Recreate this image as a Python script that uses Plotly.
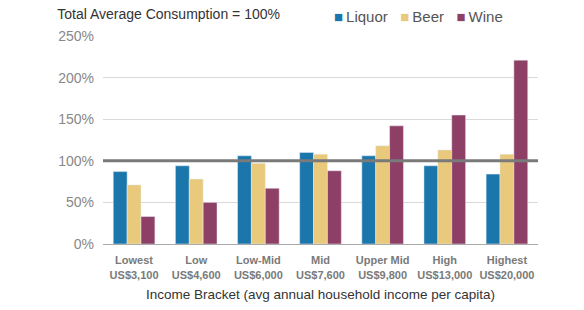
import plotly.graph_objects as go

categories = ["<b>Lowest</b><br><b>US$3,100</b>", "<b>Low</b><br><b>US$4,600</b>",
              "<b>Low-Mid</b><br><b>US$6,000</b>", "<b>Mid</b><br><b>US$7,600</b>",
              "<b>Upper Mid</b><br><b>US$9,800</b>", "<b>High</b><br><b>US$13,000</b>",
              "<b>Highest</b><br><b>US$20,000</b>"]
series_names = ["Liquor", "Beer", "Wine"]
liquor = [87, 94, 106, 110, 106, 94, 84]
beer = [71, 78, 97, 108, 118, 113, 108]
wine = [33, 50, 67, 88, 142, 155, 221]
colors = ["#1B76AC", "#E9C97C", "#8E3F66"]
ref_value = 100

fig = go.Figure()
for name, vals, col in zip(series_names, [liquor, beer, wine], colors):
    fig.add_bar(x=categories, y=vals, name=name, marker_color=col, showlegend=False)

fig.add_shape(type="line", xref="paper", x0=0, x1=1, yref="y", y0=ref_value, y1=ref_value,
              line=dict(color="#7a7a7a", width=3))

legend_text = "&nbsp;&nbsp;&nbsp;".join(
    f"<span style='color:{c}'>■</span><span style='color:#555'>&#8201;{n}</span>"
    for n, c in zip(series_names, colors))
fig.add_annotation(text=legend_text, xref="paper", yref="paper", x=0.925, y=1.095,
                   xanchor="right", yanchor="middle", showarrow=False,
                   font=dict(size=15, family="Arial, Liberation Sans"))

fig.update_layout(
    width=584, height=310,
    margin=dict(l=103, r=46, t=36, b=66, autoexpand=False),
    paper_bgcolor="white", plot_bgcolor="white",
    barmode="group", bargap=0.33, bargroupgap=0,
    font=dict(family="Arial, Liberation Sans", color="#555"),
    title=dict(text="Total Average Consumption = 100%", x=0.098, xanchor="left", y=0.955, yanchor="middle",
               font=dict(size=14, color="#333")),
    xaxis=dict(showline=True, linecolor="#aaa", linewidth=1, ticks="",
               tickfont=dict(size=11, color="#7a7a7a"), ticklabelstandoff=6,
               title=dict(text="Income Bracket (avg annual household income per capita)",
                          font=dict(size=13.5, color="#333"), standoff=10)),
    yaxis=dict(range=[0, 250], dtick=50, ticksuffix="%", showgrid=True, gridcolor="#d9d9d9",
               zeroline=False, tickfont=dict(size=14, color="#888"), ticklabelstandoff=8),
)

fig.write_html("out.html")
